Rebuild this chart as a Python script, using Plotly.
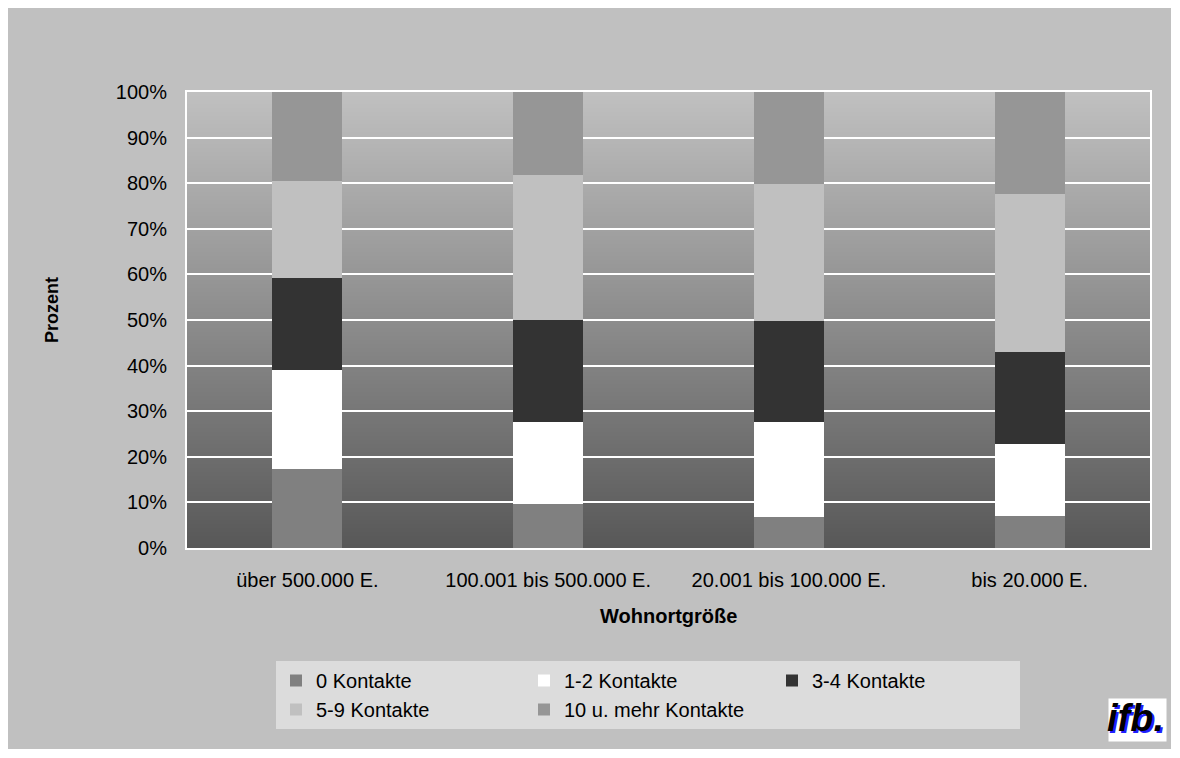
import plotly.graph_objects as go

categories = ["über 500.000 E.", "100.001 bis 500.000 E.", "20.001 bis 100.000 E.", "bis 20.000 E."]
series_names = ["0 Kontakte", "1-2 Kontakte", "3-4 Kontakte", "5-9 Kontakte", "10 u. mehr Kontakte"]
v_0 = [17.3, 9.6, 6.8, 7.0]
v_1_2 = [21.7, 18.0, 20.8, 15.8]
v_3_4 = [20.3, 22.4, 22.2, 20.2]
v_5_9 = [21.2, 31.8, 30.0, 34.6]
v_10 = [19.5, 18.2, 20.2, 22.4]
series_values = [v_0, v_1_2, v_3_4, v_5_9, v_10]
series_colors = ["#808080", "#ffffff", "#333333", "#c0c0c0", "#969696"]
y_ticks = list(range(0, 101, 10))
y_tick_labels = [f"{t}%" for t in y_ticks]

FONT = "Liberation Sans, Arial, sans-serif"
OFF = 8  # page body margin
W, H = 1163, 741
ML, MR, MT, MB = 179, 21, 84, 201
PW, PH = W - ML - MR, H - MT - MB

fig = go.Figure()
for name, vals, col in zip(series_names, series_values, series_colors):
    fig.add_trace(go.Bar(x=categories, y=vals, name=name, marker=dict(color=col, line=dict(width=0)),
                         width=0.29))

# screen pixel -> paper coordinate helpers
px = lambda p: (p - OFF - ML) / PW
py = lambda p: (H - MB - (p - OFF)) / PH

shapes = []
n = 114
top_c, bot_c = 192, 88
for i in range(n):
    f0 = i / n
    f1 = (i + 1) / n
    c = round(bot_c + (top_c - bot_c) * (i + 0.5) / n)
    shapes.append(dict(type="rect", xref="paper", yref="paper", x0=0, x1=1, y0=f0, y1=min(1, f1 + 0.004),
                       fillcolor=f"rgb({c},{c},{c})", line=dict(width=0), layer="below"))

fig.update_layout(
    width=W, height=H,
    margin=dict(l=ML, r=MR, t=MT, b=MB),
    paper_bgcolor="#c0c0c0",
    plot_bgcolor="#c0c0c0",
    barmode="stack",
    font=dict(family=FONT, size=20, color="#000000"),
    shapes=shapes,
    showlegend=True,
    legend=dict(orientation="h", x=px(276), xanchor="left", y=py(661), yanchor="top",
                bgcolor="#dcdcdc", borderwidth=0, traceorder="normal",
                font=dict(family=FONT, size=20, color="#000000"),
                entrywidth=203, entrywidthmode="pixels"),
    xaxis=dict(showgrid=False, showline=True, linecolor="#ffffff", linewidth=2, mirror=True,
               ticks="", tickfont=dict(size=20), ticklabelstandoff=13, zeroline=False),
    yaxis=dict(range=[0, 100], tickvals=y_ticks, ticktext=y_tick_labels, showgrid=True,
               gridcolor="#ffffff", gridwidth=2, showline=True, linecolor="#ffffff", linewidth=2,
               mirror=True, ticks="", tickfont=dict(size=20), ticklabelstandoff=14, zeroline=False),
    annotations=[
        dict(text="<b>Prozent</b>", xref="paper", yref="paper", x=px(52), y=py(310), textangle=-90,
             showarrow=False, font=dict(size=18, family=FONT), xanchor="center", yanchor="middle"),
        dict(text="<b>Wohnortgröße</b>", xref="paper", yref="paper", x=px(668), y=py(616),
             showarrow=False, font=dict(size=20, family=FONT), xanchor="center", yanchor="middle"),
        dict(text="<b><i>ifb.</i></b>", xref="paper", yref="paper", x=px(1137), y=py(720),
             showarrow=False, font=dict(size=38, family=FONT, color="#2020ff"), xanchor="center",
             yanchor="middle", bgcolor="#ffffff", borderpad=0),
        dict(text="<b><i>ifb.</i></b>", xref="paper", yref="paper", x=px(1135), y=py(718),
             showarrow=False, font=dict(size=38, family=FONT, color="#000000"), xanchor="center",
             yanchor="middle"),
    ],
)

fig.write_html("out.html")
